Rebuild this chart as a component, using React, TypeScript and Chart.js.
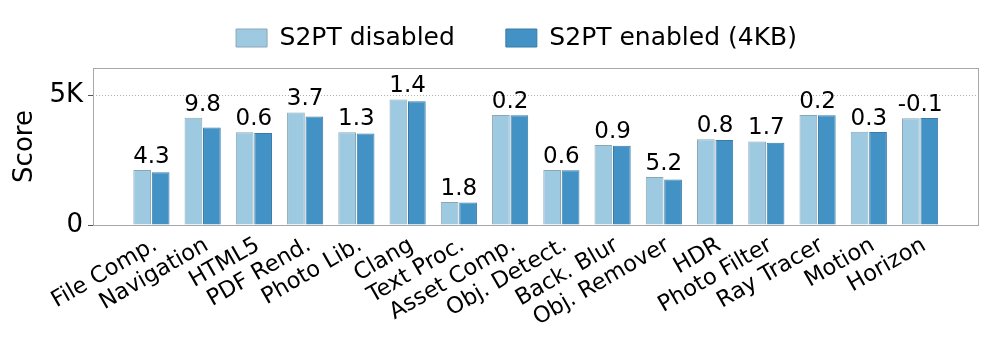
import React, { useEffect, useRef } from "react";
import { Chart, registerables } from "chart.js";

Chart.register(...registerables);

const categories = [
  "File Comp.", "Navigation", "HTML5", "PDF Rend.", "Photo Lib.", "Clang",
  "Text Proc.", "Asset Comp.", "Obj. Detect.", "Back. Blur", "Obj. Remover",
  "HDR", "Photo Filter", "Ray Tracer", "Motion", "Horizon",
];
const disabledScores = [2120, 4130, 3570, 4340, 3570, 4840, 885, 4235, 2120, 3080, 1850, 3300, 3220, 4235, 3590, 4115];
const enabledScores = [2030, 3760, 3550, 4185, 3525, 4773, 870, 4225, 2107, 3052, 1758, 3274, 3166, 4227, 3580, 4119];
const diffLabels = ["4.3", "9.8", "0.6", "3.7", "1.3", "1.4", "1.8", "0.2", "0.6", "0.9", "5.2", "0.8", "1.7", "0.2", "0.3", "-0.1"];
const seriesNames = ["S2PT disabled", "S2PT enabled (4KB)"];
const yTickValues = [0, 5000];
const yTickLabels = ["0", "5K"];

const FONT = "'DejaVu Sans', sans-serif";

export default function App() {
  const ref = useRef<HTMLCanvasElement | null>(null);

  useEffect(() => {
    if (!ref.current) return;

    const legendShift = {
      id: "legendShift",
      afterLayout(chart: any) {
        const l = chart.legend;
        if (!l) return;
        const dx = 27, dy = -7.5;
        l.left += dx; l.right += dx; l.top += dy; l.bottom += dy;
      },
    };

    const frameAndLabels = {
      id: "frameAndLabels",
      afterDatasetsDraw(chart: any) {
        const { ctx, chartArea: a, scales } = chart;
        ctx.save();
        ctx.strokeStyle = "#a8a8a8";
        ctx.lineWidth = 1;
        ctx.strokeRect(Math.round(a.left) + 0.5, Math.round(a.top) + 0.5,
          Math.round(a.right - a.left) - 1, Math.round(a.bottom - a.top));
        ctx.fillStyle = "#000";
        ctx.font = `23px ${FONT}`;
        ctx.textAlign = "center";
        ctx.textBaseline = "alphabetic";
        diffLabels.forEach((t, i) => {
          const x = scales.x.getPixelForValue(i);
          const top = Math.max(disabledScores[i], enabledScores[i]);
          const y = scales.y.getPixelForValue(top) - 7;
          ctx.fillText(t, x, y);
        });
        ctx.restore();
      },
    };

    const chart = new Chart(ref.current, {
      type: "bar",
      data: {
        datasets: [
          {
            label: seriesNames[0],
            data: disabledScores.map((v, i) => ({ x: i, y: v })),
            backgroundColor: "#9ecae1",
            borderColor: "#8aa7b8",
            borderWidth: 1,
          },
          {
            label: seriesNames[1],
            data: enabledScores.map((v, i) => ({ x: i, y: v })),
            backgroundColor: "#4292c6",
            borderColor: "#3a7aa6",
            borderWidth: 1,
          },
        ],
      },
      options: {
        animation: false,
        responsive: false,
        devicePixelRatio: 1,
        layout: { padding: { top: -18, right: 18, bottom: 0, left: 0 } },
        datasets: {
          bar: { categoryPercentage: 0.72, barPercentage: 0.96 },
        },
        plugins: {
          tooltip: { enabled: false },
          legend: {
            position: "top",
            labels: {
              boxWidth: 31,
              boxHeight: 18,
              padding: 51,
              color: "#000",
              font: { family: FONT, size: 25 },
            },
          },
        },
        scales: {
          x: {
            type: "linear",
            offset: false,
            min: -1.14,
            max: 16.15,
            border: { display: false },
            grid: { display: false, drawTicks: false },
            afterBuildTicks: (scale: any) => {
              scale.ticks = categories.map((_, i) => ({ value: i }));
            },
            afterFit: (scale: any) => {
              scale.height = 124;
            },
            ticks: {
              autoSkip: false,
              minRotation: 30,
              maxRotation: 30,
              padding: 7,
              labelOffset: 4,
              color: "#000",
              font: { family: FONT, size: 22.5 },
              callback: (v: any) => categories[Number(v)] ?? "",
            },
          },
          y: {
            min: 0,
            max: 6050,
            border: { display: false, dash: [1, 2] },
            afterBuildTicks: (scale: any) => {
              scale.ticks = yTickValues.map((v) => ({ value: v }));
            },
            afterFit: (scale: any) => {
              scale.width = 93;
            },
            ticks: {
              padding: 5,
              color: "#000",
              font: { family: FONT, size: 26 },
              callback: (v: any) => yTickLabels[yTickValues.indexOf(Number(v))] ?? "",
            },
            grid: {
              color: (c: any) => (c.tick && c.tick.value === 5000 ? "#b0b0b0" : "rgba(0,0,0,0)"),
              tickColor: "#555",
              tickBorderDash: [],
              tickLength: 5,
              tickWidth: 1,
              lineWidth: 1,
            },
            title: {
              display: true,
              text: "Score",
              color: "#000",
              font: { family: FONT, size: 26 },
              padding: { top: 9.5, bottom: 0 },
            },
          },
        },
      },
      plugins: [legendShift, frameAndLabels],
    } as any);

    return () => chart.destroy();
  }, []);

  return (
    <div style={{ position: "absolute", left: 0, top: 0, width: 997, height: 349, background: "#fff" }}>
      <canvas ref={ref} width={997} height={349} style={{ display: "block" }} />
    </div>
  );
}
